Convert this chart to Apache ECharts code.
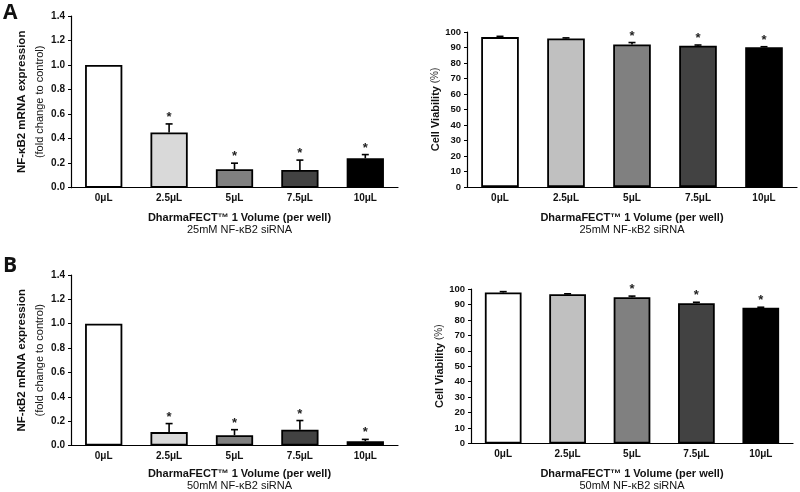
<!DOCTYPE html>
<html>
<head>
<meta charset="utf-8">
<script src="https://cdn.jsdelivr.net/npm/echarts@6/dist/echarts.min.js"></script>
<style>html,body{margin:0;padding:0;background:#fff}#c{width:800px;height:492px}</style>
</head>
<body>
<div id="c"></div>
<script>
// ---- data ----
const categories = ['0μL', '2.5μL', '5μL', '7.5μL', '10μL'];

const exprA    = [1.0, 0.45, 0.15, 0.145, 0.24];
const exprAErr = [0, 0.07, 0.05, 0.08, 0.03];
const exprASig = [0, 1, 1, 1, 1];

const viabA    = [96.7, 95.8, 92.0, 91.2, 90.2];
const viabAErr = [0.5, 0.4, 1.2, 0.4, 0.3];
const viabASig = [0, 0, 1, 1, 1];

const exprB    = [1.0, 0.11, 0.085, 0.13, 0.035];
const exprBErr = [0, 0.07, 0.045, 0.075, 0.015];
const exprBSig = [0, 1, 1, 1, 1];

const viabB    = [97.8, 96.6, 94.7, 90.8, 87.8];
const viabBErr = [0.5, 0.3, 0.7, 0.6, 0.4];
const viabBSig = [0, 0, 1, 1, 1];

const exprColors = ['#ffffff', '#d9d9d9', '#808080', '#424242', '#000000'];
const viabColors = ['#ffffff', '#c0c0c0', '#808080', '#424242', '#000000'];

const xTitle = 'DharmaFECT™ 1 Volume (per well)';
const subA = '25mM NF-κB2 siRNA';
const subB = '50mM NF-κB2 siRNA';
const exprTitle = 'NF-κB2 mRNA expression';
const exprSub = '(fold change to control)';
const viabTitle = 'Cell Viability';
const viabSub = ' (%)';

// ---- chart ----
const FONT = '"Liberation Sans", Arial, sans-serif';
const grids = [
  {left: 71, top: 16, width: 327, height: 171.7},
  {left: 467, top: 32, width: 330, height: 155},
  {left: 71, top: 275, width: 327, height: 171},
  {left: 471, top: 289, width: 322, height: 155.3}
];

function xAx(gi, sub, gap, pad) {
  return {
    type: 'category', gridIndex: gi, data: categories,
    axisLine: {lineStyle: {color: '#000', width: 1.2}},
    axisTick: {show: false},
    axisLabel: {fontSize: 10, fontWeight: 'bold', color: '#111', margin: 6, fontFamily: FONT},
    name: '{a|' + xTitle + '}\n{b|' + sub + '}',
    nameLocation: 'middle', nameGap: gap,
    nameTextStyle: {
      padding: [0, 0, 0, pad],
      rich: {
        a: {fontSize: 11, fontWeight: 'bold', color: '#111', fontFamily: FONT, lineHeight: 12},
        b: {fontSize: 11, color: '#111', fontFamily: FONT, lineHeight: 12}
      }
    }
  };
}
function yExpr(gi) {
  return {
    type: 'value', gridIndex: gi, min: 0, max: 1.4, interval: 0.2,
    axisLine: {show: true, lineStyle: {color: '#000', width: 1.2}},
    axisTick: {show: true, length: 3, lineStyle: {color: '#000'}},
    splitLine: {show: false},
    axisLabel: {fontSize: 10, fontWeight: 'bold', color: '#111', margin: 6, fontFamily: FONT,
      formatter: v => v.toFixed(1)},
    name: '{a|' + exprTitle + '}\n{b|' + exprSub + '}',
    nameLocation: 'middle', nameRotate: 90, nameGap: 22.5,
    nameTextStyle: {
      rich: {
        a: {fontSize: 11.5, fontWeight: 'bold', color: '#111', fontFamily: FONT, lineHeight: 18},
        b: {fontSize: 11, color: '#111', fontFamily: FONT, lineHeight: 18}
      }
    }
  };
}
function yViab(gi) {
  return {
    type: 'value', gridIndex: gi, min: 0, max: 100, interval: 10,
    axisLine: {show: true, lineStyle: {color: '#000', width: 1.2}},
    axisTick: {show: true, length: 3, lineStyle: {color: '#000'}},
    splitLine: {show: false},
    axisLabel: {fontSize: 9.5, fontWeight: 'bold', color: '#111', margin: 6, fontFamily: FONT},
    name: '{a|' + viabTitle + '}{b|' + viabSub + '}',
    nameLocation: 'middle', nameRotate: 90, nameGap: 24.5,
    nameTextStyle: {
      rich: {
        a: {fontSize: 11, fontWeight: 'bold', color: '#111', fontFamily: FONT, lineHeight: 14},
        b: {fontSize: 10, color: '#333', fontFamily: FONT, lineHeight: 14}
      }
    }
  };
}

function barSeries(gi, vals, colors) {
  return {
    type: 'bar', xAxisIndex: gi, yAxisIndex: gi, barWidth: '57%',
    data: vals.map((v, i) => ({value: v, itemStyle: {color: colors[i]}})),
    itemStyle: {borderColor: '#000', borderWidth: 1.8},
    z: 2
  };
}
function errSeries(gi, vals, errs, sigs) {
  return {
    type: 'custom', xAxisIndex: gi, yAxisIndex: gi, z: 5,
    data: vals.map((v, i) => [i, v, errs[i], sigs[i]]),
    encode: {x: 0, y: 1},
    renderItem: function (params, api) {
      const i = api.value(0), v = api.value(1), e = api.value(2), s = api.value(3);
      const base = api.coord([i, v]);
      const top = api.coord([i, v + e]);
      const ch = [];
      if (e > 0) {
        ch.push({type: 'line', shape: {x1: base[0], y1: base[1], x2: top[0], y2: top[1]},
          style: {stroke: '#000', lineWidth: 1.6}});
        ch.push({type: 'line', shape: {x1: top[0] - 3.5, y1: top[1], x2: top[0] + 3.5, y2: top[1]},
          style: {stroke: '#000', lineWidth: 1.6}});
      }
      if (s) {
        ch.push({type: 'text', style: {text: '*', x: top[0], y: top[1] - 6.5, align: 'center',
          verticalAlign: 'middle', fontSize: 13, fontWeight: 'bold', fontFamily: FONT, fill: '#222'}});
      }
      return {type: 'group', children: ch};
    }
  };
}

const chart = echarts.init(document.getElementById('c'), null, {renderer: 'canvas'});
chart.setOption({
  animation: false,
  backgroundColor: '#fff',
  grid: grids,
  xAxis: [xAx(0, subA, 24, 10), xAx(1, subA, 25, 0), xAx(2, subB, 22, 10), xAx(3, subB, 24, 0)],
  yAxis: [yExpr(0), yViab(1), yExpr(2), yViab(3)],
  series: [
    barSeries(0, exprA, exprColors), errSeries(0, exprA, exprAErr, exprASig),
    barSeries(1, viabA, viabColors), errSeries(1, viabA, viabAErr, viabASig),
    barSeries(2, exprB, exprColors), errSeries(2, exprB, exprBErr, exprBSig),
    barSeries(3, viabB, viabColors), errSeries(3, viabB, viabBErr, viabBSig)
  ],
  graphic: [
    {type: 'text', left: 3, top: 3, style: {text: 'A', fontSize: 21, fontWeight: 'bold', fontFamily: '"Open Sans", sans-serif', fill: '#111'}},
    {type: 'text', left: 3, top: 256, style: {text: 'B', fontSize: 21, fontWeight: 'bold', fontFamily: '"Open Sans", sans-serif', fill: '#111'}}
  ]
});
</script>
</body>
</html>
